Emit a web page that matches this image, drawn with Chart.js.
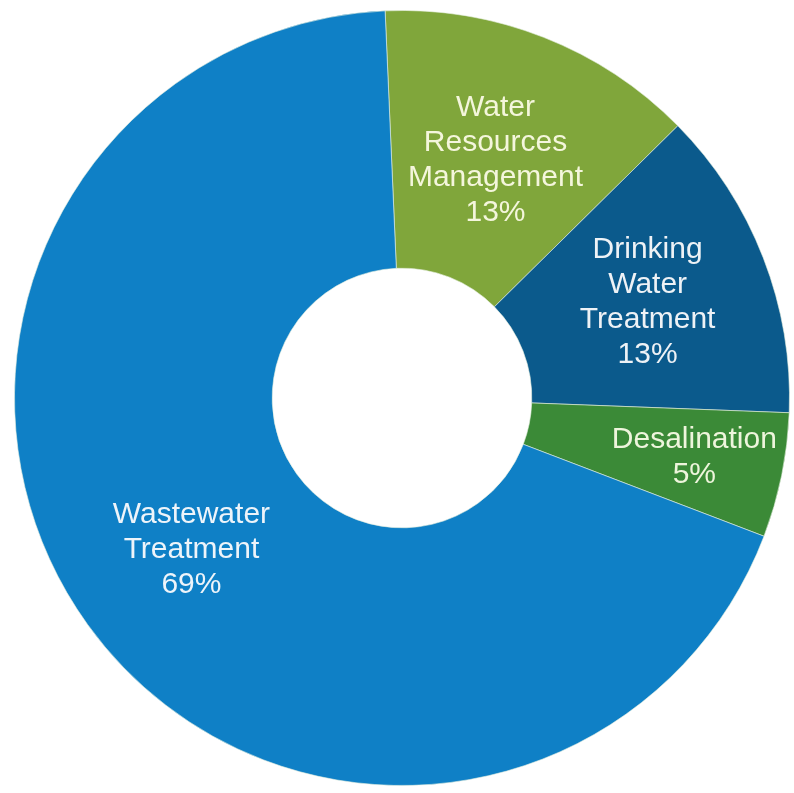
<!DOCTYPE html>
<html lang="en">
<head>
<meta charset="UTF-8">
<title>Water segments</title>
<style>
    body { margin: 0; background: #ffffff; }
    #wrap { width: 794px; height: 793px; }
</style>
</head>
<body>
<div id="wrap"><canvas id="pie" width="794" height="793"></canvas></div>

<script src="https://cdn.jsdelivr.net/npm/chart.js"></script>
<script>
// values (percent)
const categories = ["Water Resources Management", "Drinking Water Treatment", "Desalination", "Wastewater Treatment"];
const shares = [13.3, 13.0, 5.2, 68.5];
// text printed on each slice
const labelLines = [
    ["Water", "Resources", "Management"],
    ["Drinking", "Water", "Treatment"],
    ["Desalination"],
    ["Wastewater", "Treatment"]
];
const labelPercents = ["13%", "13%", "5%", "69%"];

const colors = ["#80a63b", "#0b5a8c", "#3b8a37", "#0f80c6"];
const textColors = ["#f4f6dc", "#eef2f6", "#eef5dc", "#eef4fa"];
const labelRadius = [0.66, 0.68, 0.77, 0.67]; // fraction of outer radius

const sliceLabels = {
    id: 'sliceLabels',
    afterDatasetsDraw(chart) {
        const ctx = chart.ctx;
        const arcs = chart.getDatasetMeta(0).data;
        ctx.save();
        ctx.font = '30px "Liberation Sans", Arial, sans-serif';
        ctx.textAlign = 'center';
        ctx.textBaseline = 'middle';
        arcs.forEach((arc, i) => {
            const mid = (arc.startAngle + arc.endAngle) / 2;
            const r = arc.outerRadius * labelRadius[i];
            const cx = arc.x + Math.cos(mid) * r;
            const cy = arc.y + Math.sin(mid) * r;
            const lines = labelLines[i].concat([labelPercents[i]]);
            const lh = 35;
            const top = cy - (lines.length - 1) * lh / 2;
            ctx.fillStyle = textColors[i];
            lines.forEach((t, j) => ctx.fillText(t, cx, top + j * lh));
        });
        ctx.restore();
    }
};

new Chart(document.getElementById('pie').getContext('2d'), {
    type: 'doughnut',
    data: {
        labels: categories,
        datasets: [{
            data: shares,
            backgroundColor: colors,
            borderColor: 'rgba(230,240,225,0.6)',
            borderWidth: 1
        }]
    },
    options: {
        responsive: false,
        animation: false,
        rotation: -2.5,
        cutout: '33.5%',
        layout: { padding: { left: 14, top: 10, right: 4, bottom: 7 } },
        plugins: {
            legend: { display: false },
            tooltip: { enabled: false }
        }
    },
    plugins: [sliceLabels]
});
</script>
</body>
</html>
